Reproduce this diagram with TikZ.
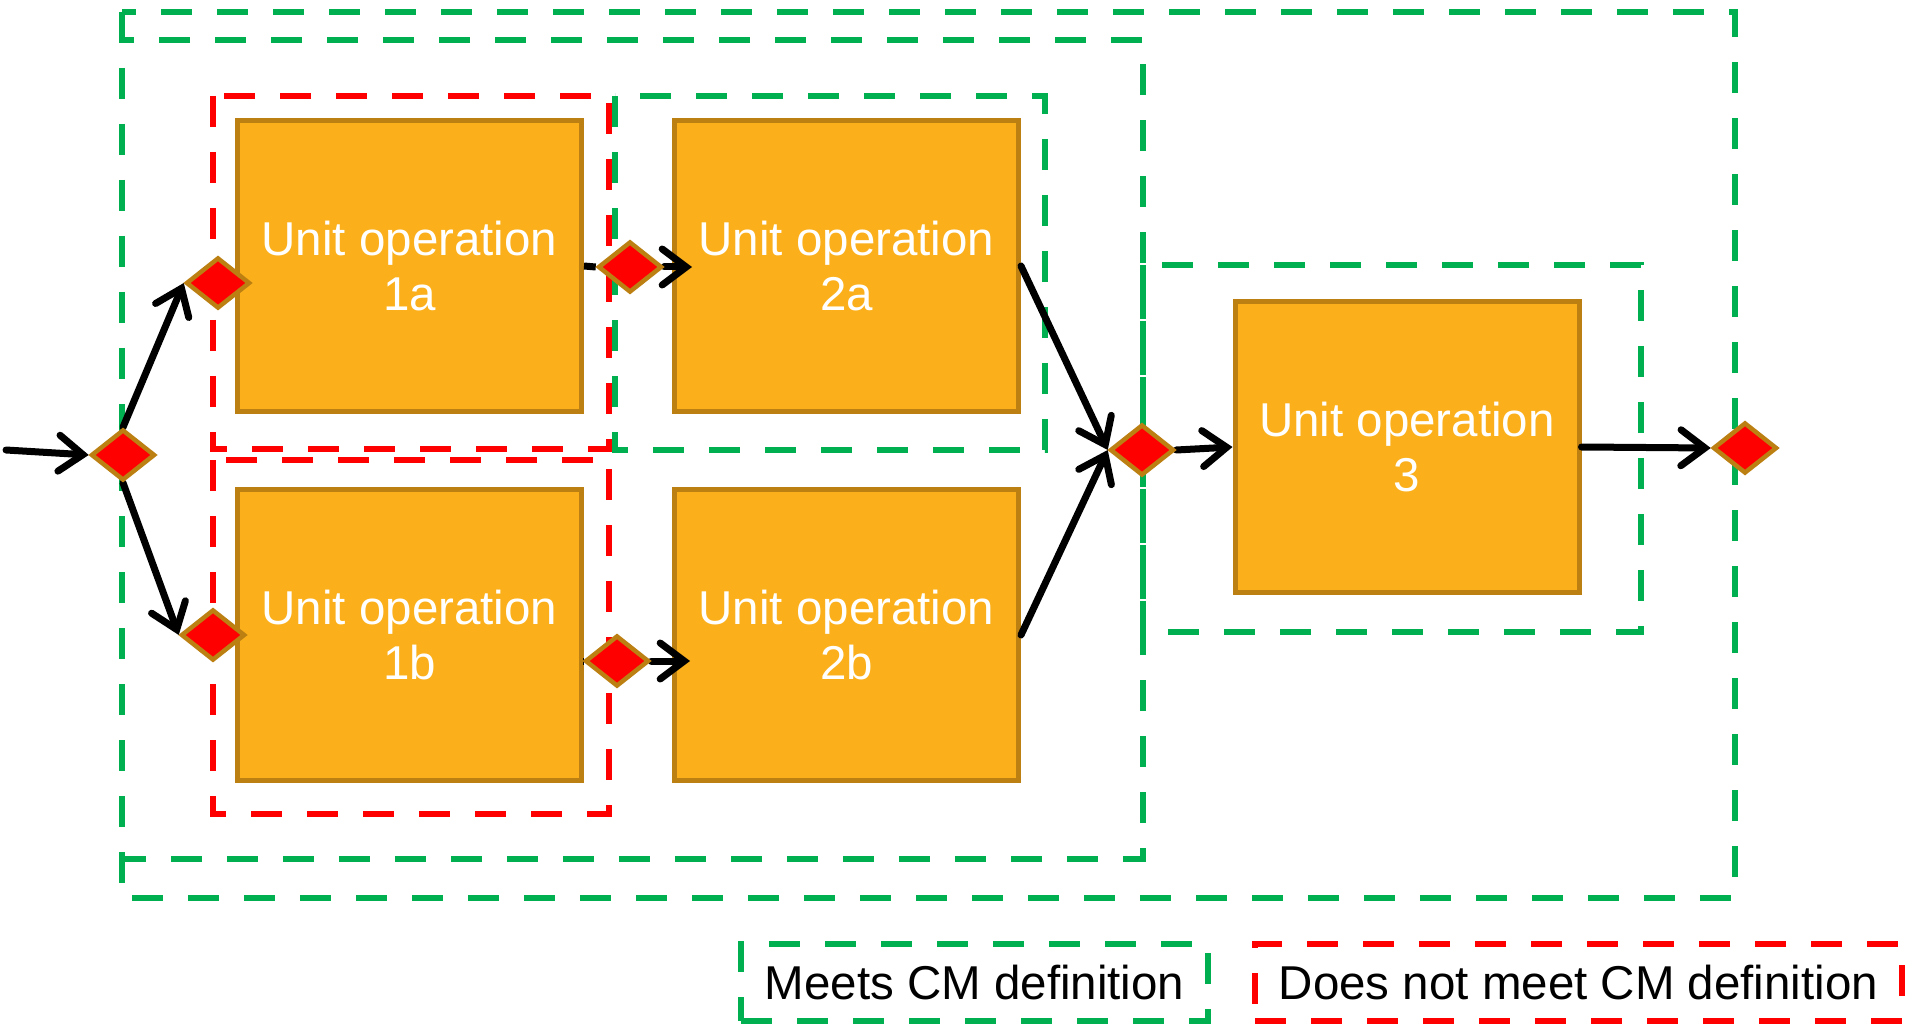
\documentclass[tikz,border=0pt]{standalone}
\usepackage{fontspec}
\setmainfont{Liberation Sans}
\usetikzlibrary{arrows.meta,shapes.geometric}
\definecolor{cmgreen}{RGB}{0,176,80}
\definecolor{cmred}{RGB}{255,0,0}
\definecolor{opfill}{RGB}{251,176,27}
\definecolor{opedge}{RGB}{188,128,18}
\pgfdeclarelayer{front}
\pgfsetlayers{main,front}
\tikzset{
    unit op/.style={
        rectangle, fill=opfill, draw=opedge, line width=5pt,
        minimum width=344pt, minimum height=291pt, inner sep=0pt,
        text=white, align=center,
        font=\fontsize{47.5}{55}\selectfont
    },
    check point/.style={
        diamond, fill=cmred, draw=opedge, line width=4.5pt,
        minimum width=64pt, minimum height=51pt, inner sep=0pt
    },
    cm frame/.style={
        line width=6pt, dash pattern=on 31pt off 25pt
    },
    meets/.style={cm frame, draw=cmgreen},
    fails/.style={cm frame, draw=cmred},
    legend box/.style={
        rectangle, inner sep=0pt, font=\fontsize{47.5}{55}\selectfont
    },
    flow/.style={
        line width=7pt, line cap=round,
        -{Straight Barb[length=24pt,width=36pt,line cap=round]}
    }
}

\begin{document}
\begin{tikzpicture}[x=1pt,y=-1pt]
\useasboundingbox (0,0) rectangle (1907,1024);

% frames around the operations
\draw[meets] (122,12) rectangle (1735,898);
\draw[meets,dash phase=28pt] (122,40) rectangle (1143,859);
\draw[fails] (213,96) rectangle (609,449);
\draw[meets] (615,96) rectangle (1045,450);
\draw[fails] (213,460) rectangle (609,814);
\draw[meets] (1143,265) rectangle (1641,632);

% unit operations
\node[unit op] (op1a) at (409.5,266) {Unit operation\\1a};
\node[unit op] (op2a) at (846.5,266) {Unit operation\\2a};
\node[unit op] (op1b) at (409.5,635) {Unit operation\\1b};
\node[unit op] (op2b) at (846.5,635) {Unit operation\\2b};
\node[unit op] (op3) at (1407,447) {Unit operation\\3};

\begin{pgfonlayer}{front}
\node[check point] (jin) at (123,455) {};
\node[check point] (j1a) at (218,283) {};
\node[check point] (j1b) at (213,635) {};
\node[check point] (j12a) at (630,267) {};
\node[check point] (j12b) at (617,661) {};
\node[check point] (jm) at (1142,450) {};
\node[check point] (jout) at (1745,448) {};
\end{pgfonlayer}

\coordinate (feed) at (6,450);

% material flow
\draw[flow] (feed) -- (jin.west);
\draw[flow] (jin.north) -- (j1a.west);
\draw[flow] (jin.south) -- (j1b.west);
\draw[line width=7pt] (op1a.east) -- (j12a.west);
\draw[flow,shorten >=-20pt] (j12a.east) -- (op2a.west |- j12a);
\draw[line width=7pt] (j12b.west -| op1b.east) -- (j12b.west);
\draw[flow,shorten >=-18pt] (j12b.east) -- (op2b.west |- j12b);
\draw[flow] (op2a.east) -- (jm.west);
\draw[flow] (op2b.east) -- (jm.west);
\draw[flow] (jm.east) -- (op3.west);
\draw[flow] (op3.east) -- (jout.west);

% legend
\node[legend box, meets, draw=cmgreen, minimum width=467pt, minimum height=77pt] (lgmeets) at (974.5,982.5) {Meets CM definition};
\node[legend box, fails, draw=cmred, minimum width=647pt, minimum height=77pt] (lgfails) at (1578.5,982.5) {Does not meet CM definition};
\end{tikzpicture}
\end{document}
